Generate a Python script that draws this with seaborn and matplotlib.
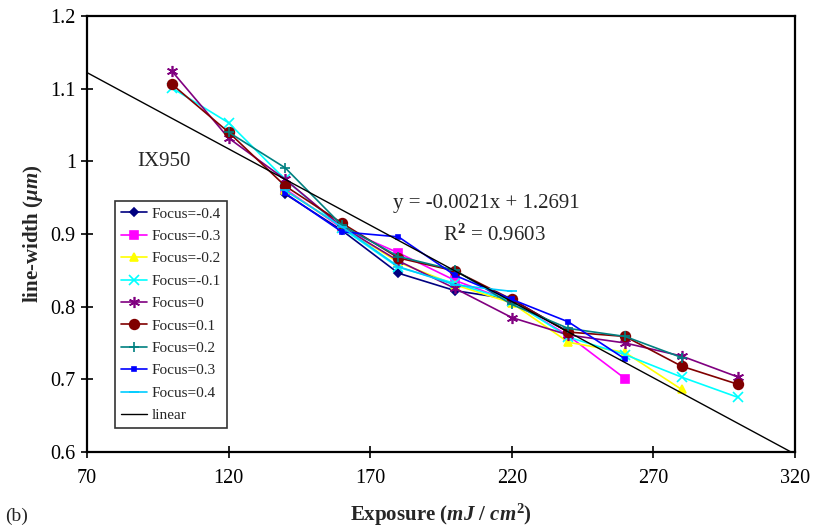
import numpy as np
import pandas as pd
import seaborn as sns
import matplotlib.pyplot as plt
from matplotlib.ticker import FormatStrFormatter

sns.set_style('ticks')
plt.rcParams['font.family'] = ['Liberation Serif', 'DejaVu Serif']
plt.rcParams['mathtext.fontset'] = 'custom'
plt.rcParams['mathtext.rm'] = 'Liberation Serif'
plt.rcParams['mathtext.it'] = 'Liberation Serif:italic:bold'
plt.rcParams['mathtext.bf'] = 'Liberation Serif:bold'

# exposure values (mJ/cm2) and measured line widths (um) per focus setting
exp_all = [100, 120, 140, 160, 180, 200, 220, 240, 260, 280, 300]

f_m04_x = [140, 160, 180, 200, 220, 240]
f_m04_y = [0.955, 0.905, 0.846, 0.822, 0.810, 0.765]
f_m03_x = [140, 160, 180, 200, 220, 240, 260]
f_m03_y = [0.962, 0.908, 0.874, 0.836, 0.807, 0.760, 0.701]
f_m02_x = [140, 160, 180, 200, 220, 240, 260, 280]
f_m02_y = [0.960, 0.910, 0.861, 0.830, 0.805, 0.751, 0.737, 0.686]
f_m01_x = exp_all
f_m01_y = [1.101, 1.053, 0.975, 0.908, 0.854, 0.832, 0.808, 0.758, 0.734, 0.703, 0.675]
f_0_x = exp_all
f_0_y = [1.124, 1.032, 0.975, 0.910, 0.863, 0.825, 0.785, 0.761, 0.750, 0.732, 0.703]
f_01_x = exp_all
f_01_y = [1.106, 1.040, 0.966, 0.915, 0.867, 0.849, 0.810, 0.765, 0.759, 0.718, 0.693]
f_02_x = [120, 140, 160, 180, 200, 220, 240, 260, 280]
f_02_y = [1.040, 0.991, 0.912, 0.869, 0.850, 0.803, 0.770, 0.759, 0.730]
f_03_x = [140, 160, 180, 200, 220, 240, 260]
f_03_y = [0.956, 0.903, 0.896, 0.843, 0.810, 0.779, 0.728]
f_04_x = [140, 160, 180, 200, 220]
f_04_y = [0.960, 0.910, 0.855, 0.830, 0.821]

labels = ['Focus=-0.4', 'Focus=-0.3', 'Focus=-0.2', 'Focus=-0.1', 'Focus=0',
          'Focus=0.1', 'Focus=0.2', 'Focus=0.3', 'Focus=0.4']
xs = [f_m04_x, f_m03_x, f_m02_x, f_m01_x, f_0_x, f_01_x, f_02_x, f_03_x, f_04_x]
ys = [f_m04_y, f_m03_y, f_m02_y, f_m01_y, f_0_y, f_01_y, f_02_y, f_03_y, f_04_y]

# linear fit reported on the chart
slope, intercept, r2 = -0.0021, 1.2691, 0.9603
fit_x = [70, 320]

colors = ['#000080', '#ff00ff', '#ffff00', '#00ffff', '#800080',
          '#800000', '#008080', '#0000ff', '#00ccff']
markers = ['D', 's', '^', 'x', (6, 2, 0), 'o', '+', 's', '_']
msizes = [4.5, 6, 6, 7, 8, 7, 7, 3, 7]

fig = plt.figure(figsize=(8.16, 5.32), dpi=100)
ax = fig.add_axes([0.1066, 0.1504, 0.8676, 0.8196])

for i in range(len(labels)):
    df = pd.DataFrame({'x': xs[i], 'y': ys[i]})
    sns.lineplot(data=df, x='x', y='y', ax=ax, color=colors[i], marker=markers[i],
                 markersize=msizes[i], markeredgecolor=colors[i], markeredgewidth=1.2,
                 linewidth=1.2, label=labels[i])

fit_df = pd.DataFrame({'x': fit_x, 'y': [slope * v + intercept for v in fit_x]})
sns.lineplot(data=fit_df, x='x', y='y', ax=ax, color='black', linewidth=1.0, label='linear')

ax.set_xlim(70, 320)
ax.set_ylim(0.6, 1.2)
ax.set_xticks(np.arange(70, 321, 50))
ax.set_yticks(np.arange(0.6, 1.21, 0.1))
ax.yaxis.set_major_formatter(FormatStrFormatter('%g'))
ax.tick_params(direction='inout', length=9, width=1.2, labelsize=14.5, colors='black')
ax.tick_params(axis='x', pad=8)
for s in ax.spines.values():
    s.set_linewidth(1.6)
    s.set_color('black')

ax.set_xlabel(r'Exposure ($mJ$ / $cm^{\mathbf{2}}$)', fontsize=15, fontweight='bold', labelpad=10)
ax.set_ylabel(r'line-width ($\mu m$)', fontsize=15, fontweight='bold', labelpad=4)

ax.text(97, 1.0, 'IX950', fontsize=15, ha='center', va='center')
ax.text(211, 0.942, 'y = -0.0021x + 1.2691', fontsize=15, ha='center', va='center')
ax.text(214, 0.899, r'R$^{\mathbf{2}}$ = 0.9603', fontsize=15, ha='center', va='center')
fig.text(0.006, 0.03, '(b)', fontsize=14, ha='left', va='center')

leg = ax.legend(loc='upper left', bbox_to_anchor=(0.04, 0.576), fontsize=11,
                frameon=True, fancybox=False, edgecolor='black', handlelength=1.7,
                borderpad=0.4, labelspacing=0.57, handletextpad=0.3, borderaxespad=0)
leg.get_frame().set_linewidth(1.2)

fig.savefig('out.png', dpi=100)
